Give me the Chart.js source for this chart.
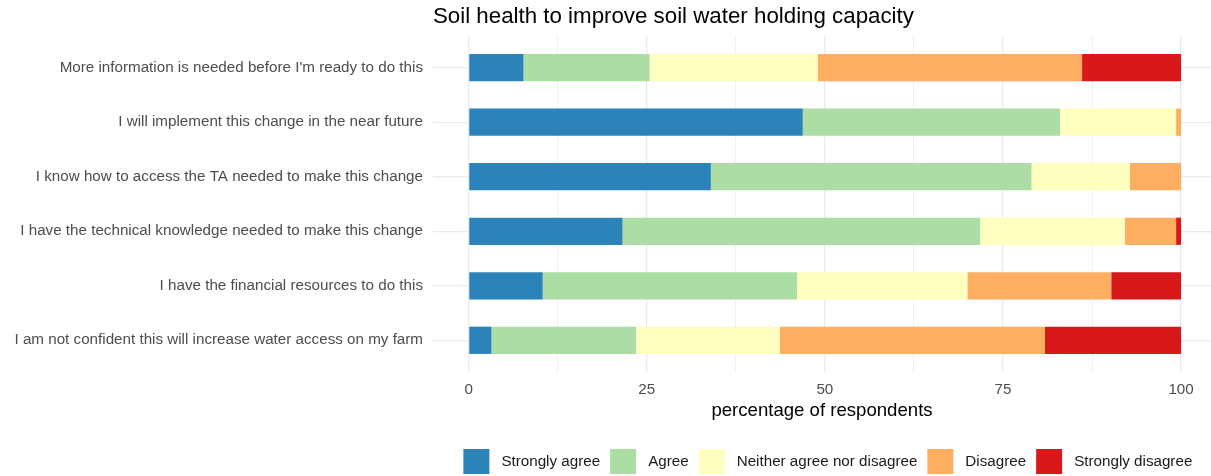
<!DOCTYPE html>
<html>
<head>
<meta charset="utf-8">
<script src="https://cdn.jsdelivr.net/npm/chart.js@4.4.0/dist/chart.umd.min.js"></script>
<style>
  body { margin: 0; background: #fff; }
  canvas { display: block; }
</style>
</head>
<body>
<canvas id="myChart" width="1211" height="476"></canvas>
<script>
// statements, top to bottom as in the picture
const statements = [
  "More information is needed before I'm ready to do this",
  "I will implement this change in the near future",
  "I know how to access the TA needed to make this change",
  "I have the technical knowledge needed to make this change",
  "I have the financial resources to do this",
  "I am not confident this will increase water access on my farm"
]
const levels = ["Strongly agree", "Agree", "Neither agree nor disagree", "Disagree", "Strongly disagree"]

// percentages per level, same order as statements
const stronglyAgree = [7.7, 46.9, 34.0, 21.6, 10.4, 3.2]
const agree = [17.7, 36.1, 45.0, 50.2, 35.7, 20.3]
const neither = [23.6, 16.3, 13.8, 20.3, 23.9, 20.2]
const disagree = [37.1, 0.7, 7.2, 7.2, 20.2, 37.2]
const stronglyDisagree = [13.9, 0, 0, 0.7, 9.8, 19.1]

const xTickLabels = [0, 25, 50, 75, 100]
const xGridValues = [0, 12.5, 25, 37.5, 50, 62.5, 75, 87.5, 100]

const chartTitle = "Soil health to improve soil water holding capacity"
const xTitle = "percentage of respondents"

const colors = ["#2b83ba", "#abdda4", "#ffffbf", "#fdae61", "#d7191c"]
const fontFamily = "'Liberation Sans', Arial, sans-serif"

const series = [stronglyAgree, agree, neither, disagree, stronglyDisagree]

const datasets = series.map((values, i) => ({
  label: levels[i],
  backgroundColor: colors[i],
  borderWidth: 0,
  barPercentage: 0.5,
  categoryPercentage: 1,
  data: values.map((v, j) => ({ x: v, y: j }))
}))

// title left aligned on the panel and legend keys under it
const extras = {
  id: "extras",
  afterDraw(chart) {
    const ctx = chart.ctx
    const area = chart.chartArea
    const xs = chart.scales.x
    ctx.save()
    ctx.textBaseline = "middle"
    ctx.textAlign = "left"
    ctx.fillStyle = "#000"
    ctx.font = "22.3px " + fontFamily
    ctx.fillText(chartTitle, area.left, 17)

    ctx.font = "15.2px " + fontFamily
    const box = 26
    const gap = 12
    const spacing = 10
    const widths = chart.data.datasets.map(d => box + gap + ctx.measureText(d.label).width)
    const total = widths.reduce((a, b) => a + b, 0) + spacing * (widths.length - 1)
    const center = (xs.getPixelForValue(-5) + xs.getPixelForValue(105)) / 2 + 3
    let px = center - total / 2
    chart.data.datasets.forEach((d, i) => {
      ctx.fillStyle = d.backgroundColor
      ctx.fillRect(px, 449, box, 25)
      ctx.fillStyle = "#1a1a1a"
      ctx.fillText(d.label, px + box + gap, 462)
      px += widths[i] + spacing
    })
    ctx.restore()
  }
}

const graf = document.getElementById("myChart").getContext("2d")

const myChart = new Chart(graf, {
  type: "bar",
  data: { datasets },
  options: {
    indexAxis: "y",
    responsive: false,
    animation: false,
    devicePixelRatio: 1,
    layout: { padding: { top: 35, bottom: 53.5, left: 0, right: 0 } },
    plugins: {
      legend: { display: false },
      tooltip: { enabled: false }
    },
    scales: {
      x: {
        type: "linear",
        stacked: true,
        min: -5,
        max: 104.2,
        afterBuildTicks: scale => { scale.ticks = xGridValues.map(v => ({ value: v })) },
        afterFit: scale => { scale.height = 49.5 },
        grid: {
          color: "#ebebeb",
          lineWidth: c => xTickLabels.includes(c.tick && c.tick.value) ? 1.3 : 0.7,
          drawTicks: false
        },
        border: { display: false },
        ticks: {
          autoSkip: false,
          maxRotation: 0,
          padding: 8,
          color: "#4d4d4d",
          font: { family: fontFamily, size: 15.2 },
          callback: v => xTickLabels.includes(v) ? String(v) : ""
        },
        title: {
          display: true,
          text: xTitle,
          color: "#000",
          font: { family: fontFamily, size: 18.6 },
          padding: { top: 4, bottom: 0 }
        }
      },
      y: {
        type: "linear",
        stacked: true,
        reverse: true,
        offset: false,
        min: -0.6,
        max: 5.6,
        afterBuildTicks: scale => { scale.ticks = statements.map((s, i) => ({ value: i })) },
        afterFit: scale => { scale.width = 433 },
        grid: { color: "#ebebeb", lineWidth: 1.3, drawTicks: false, offset: false },
        border: { display: false },
        ticks: {
          autoSkip: false,
          padding: 10,
          color: "#4d4d4d",
          font: { family: fontFamily, size: 15.2 },
          callback: v => statements[v]
        }
      }
    }
  },
  plugins: [extras]
})
</script>
</body>
</html>
